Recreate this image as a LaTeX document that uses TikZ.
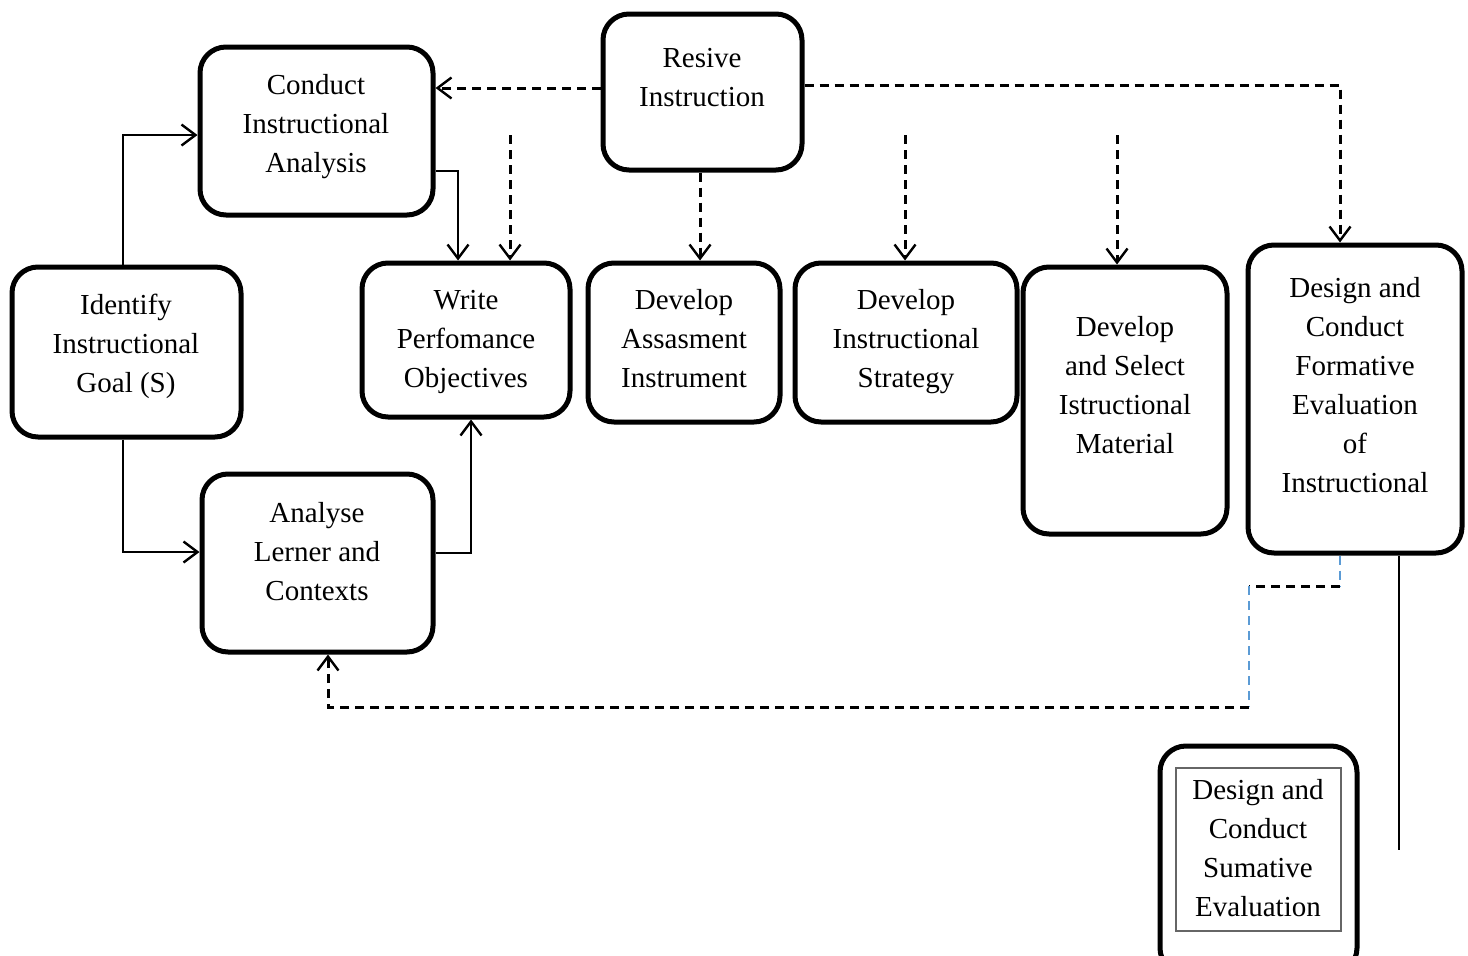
\documentclass[tikz,border=0pt]{standalone}
\usepackage{fontspec}
\setmainfont{Liberation Serif}
\usetikzlibrary{arrows.meta}
\definecolor{linkblue}{RGB}{91,155,213}
\tikzset{
  box/.style={draw=black, line width=5pt, rounded corners=26pt, inner sep=0pt},
  txt/.style={align=center, inner sep=0pt, font=\fontsize{29}{39}\selectfont,
    execute at begin node=\strut, execute at end node=\strut},
  conn/.style={draw=black, line width=2.3pt},
  arr/.style={conn, -{Straight Barb[length=14pt,width=21pt,line width=2.4pt]}},
  darr/.style={arr, line width=3pt, dash pattern=on 9pt off 6pt},
  dline/.style={conn, line width=3pt, dash pattern=on 9pt off 6pt},
  bline/.style={draw=linkblue, line width=2.2pt, dash pattern=on 9pt off 6pt},
}
\begin{document}
\begin{tikzpicture}[x=1pt,y=-1pt]
\useasboundingbox[fill=white] (0,0) rectangle (1468,956);

% boxes
\node[box, minimum width=199pt, minimum height=156pt] (res) at (702.5,92) {};
\node[box, minimum width=233pt, minimum height=168pt] (cia) at (316.5,131) {};
\node[box, minimum width=229pt, minimum height=170pt] (iig) at (126.5,352) {};
\node[box, minimum width=208pt, minimum height=154pt] (wpo) at (466,340) {};
\node[box, minimum width=192pt, minimum height=159pt] (dai) at (684,342.5) {};
\node[box, minimum width=222pt, minimum height=159pt] (dis) at (906,342.5) {};
\node[box, minimum width=204pt, minimum height=267pt] (dsm) at (1125,400.5) {};
\node[box, minimum width=214pt, minimum height=308pt] (dcf) at (1355,399) {};
\node[box, minimum width=231pt, minimum height=178pt] (alc) at (317.5,563) {};
\node[box, minimum width=197pt, minimum height=228pt] (dcs) at (1258.5,860) {};
\node[draw=black!60, line width=1.5pt, minimum width=165pt, minimum height=163pt, inner sep=0pt] (dcsin) at (1258.5,849.5) {};

% texts
\node[txt] (res-t) at (702,83) {Resive\\Instruction};
\node[txt] (cia-t) at (316,129) {Conduct\\Instructional\\Analysis};
\node[txt] (iig-t) at (126,349) {Identify\\Instructional\\Goal (S)};
\node[txt] (wpo-t) at (466,344.5) {Write\\Perfomance\\Objectives};
\node[txt] (dai-t) at (684,344) {Develop\\Assasment\\Instrument};
\node[txt] (dis-t) at (906,344) {Develop\\Instructional\\Strategy};
\node[txt] (dsm-t) at (1125,390.5) {Develop\\and Select\\Istructional\\Material};
\node[txt] (dcf-t) at (1355,390.5) {Design and\\Conduct\\Formative\\Evaluation\\of\\Instructional};
\node[txt] (alc-t) at (317,557) {Analyse\\Lerner and\\Contexts};
\node[txt] (dcs-t) at (1258,853.5) {Design and\\Conduct\\Sumative\\Evaluation};

% solid connectors
\draw[arr] ([xshift=-3.5pt]iig.north) |- ([yshift=-4pt]cia.west);
\draw[arr] ([xshift=-3.5pt]iig.south) |- ([yshift=11pt]alc.west);
\draw[arr] ([yshift=-40pt]cia.east) -| ([xshift=-8pt]wpo.north);
\draw[arr] ([yshift=10pt]alc.east) -| ([xshift=5pt]wpo.south);

% dashed connectors from Resive Instruction
\draw[darr] ([yshift=4pt]res.west) -- ([yshift=4pt]res.west -| cia.east);
\draw[darr] ([xshift=-2.5pt]res.south) -- ([xshift=16pt]dai.north);
\draw[darr] ([yshift=7pt]res.east) -| ([xshift=-15pt]dcf.north);

% free dashed arrows
\coordinate (f1) at (510,135);
\coordinate (f2) at (905,135);
\coordinate (f3) at (1117,135);
\draw[darr] (f1) -- (f1 |- wpo.north);
\draw[darr] (f2) -- (f2 |- dis.north);
\draw[darr] (f3) -- (f3 |- dsm.north);

% feedback from formative evaluation to learner analysis
\coordinate (c1) at (1340,586);
\coordinate (c2) at (1249,586);
\coordinate (c3) at (1249,707);
\coordinate (c4) at (328,707);
\draw[bline] ([xshift=-15pt]dcf.south) -- (c1);
\draw[dline] (c1) -- (c2);
\draw[bline] (c2) -- (c3);
\draw[darr] (c3) -- (c4) -- (c4 |- alc.south);

% vertical line at right
\coordinate (e1) at (1399,850);
\draw[conn, line width=2pt] ([xshift=44pt]dcf.south) -- (e1);
\end{tikzpicture}
\end{document}
